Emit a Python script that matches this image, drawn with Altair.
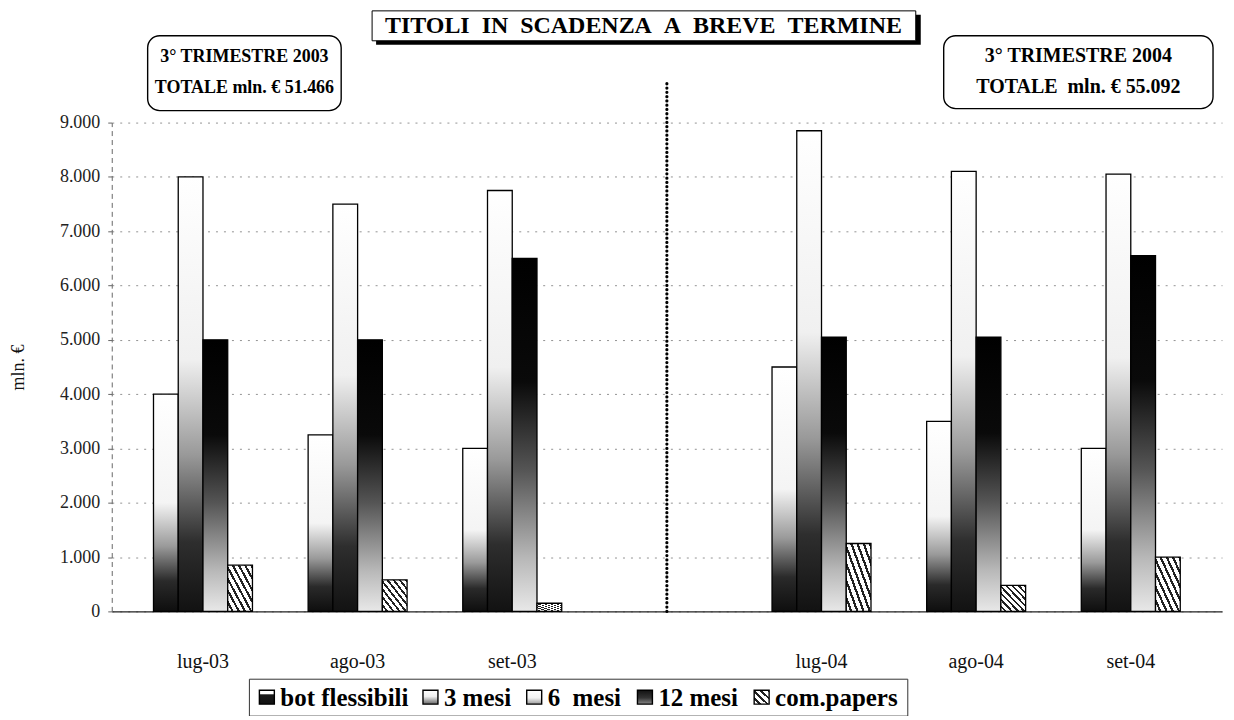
import altair as alt
import pandas as pd

# ---------------- data ----------------
MESI = ["lug-03", "ago-03", "set-03", "lug-04", "ago-04", "set-04"]
ASSE_X = ["lug-03", "ago-03", "set-03", " ", "lug-04", "ago-04", "set-04"]
SERIE = ["bot flessibili", "3 mesi", "6 mesi", "12 mesi", "com.papers"]
SERIE_BARRE = ["3 mesi", "6 mesi", "12 mesi", "com.papers"]
LEGENDA_TESTI = ["bot flessibili", "3 mesi", "6\u00a0\u00a0mesi", "12 mesi", "com.papers"]

BOT_FLESSIBILI = [0, 0, 0, 0, 0, 0]
MESI_3 = [4000, 3250, 3000, 4500, 3500, 3000]
MESI_6 = [8000, 7500, 7750, 8850, 8100, 8050]
MESI_12 = [5000, 5000, 6500, 5050, 5050, 6550]
COM_PAPERS = [850, 580, 150, 1250, 480, 1000]

TITOLO = "TITOLI\u00a0\u00a0IN\u00a0\u00a0SCADENZA\u00a0\u00a0A\u00a0\u00a0BREVE\u00a0\u00a0TERMINE"
BOX_2003 = ["3° TRIMESTRE 2003", "TOTALE mln. € 51.466"]
BOX_2004 = ["3° TRIMESTRE 2004", "TOTALE\u00a0\u00a0mln.\u00a0€\u00a055.092"]
Y_TITOLO = "mln. €"
Y_TICKS = [0, 1000, 2000, 3000, 4000, 5000, 6000, 7000, 8000, 9000]

valori = {
    "bot flessibili": BOT_FLESSIBILI,
    "3 mesi": MESI_3,
    "6 mesi": MESI_6,
    "12 mesi": MESI_12,
    "com.papers": COM_PAPERS,
}
rows = []
for s in SERIE:
    for m, v in zip(MESI, valori[s]):
        rows.append({"mese": m, "serie": s, "valore": v})
df = pd.DataFrame(rows)

# ---------------- styles ----------------
SERIF = "Liberation Serif"
W, H = 1113, 490


def grad(stops, x1=0, y1=0, x2=0, y2=1):
    return alt.Gradient(
        gradient="linear", x1=x1, y1=y1, x2=x2, y2=y2,
        stops=[alt.GradientStop(offset=o, color=c) for o, c in stops],
    )


def hatch(n):
    st = []
    for i in range(n):
        a, b, c = i / n, (i + 0.62) / n, (i + 1) / n
        st += [(a, "#ffffff"), (b, "#ffffff"), (b, "#222222"), (c, "#222222")]
    return grad(st, x1=0, y1=1, x2=1, y2=0)


FILLS = {
    "3 mesi": grad([(0, "#ffffff"), (0.5, "#f4f4f4"), (0.7, "#9a9a9a"), (0.86, "#2a2a2a"), (1, "#0e0e0e")]),
    "6 mesi": grad([(0, "#ffffff"), (0.42, "#f0f0f0"), (0.64, "#999999"), (0.84, "#2e2e2e"), (1, "#121212")]),
    "12 mesi": grad([(0, "#000000"), (0.35, "#0a0a0a"), (0.6, "#555555"), (0.85, "#b8b8b8"), (1, "#e8e8e8")]),
    "com.papers": hatch(8),
}
ICON_FILLS = [
    grad([(0, "#ffffff"), (0.28, "#ffffff"), (0.32, "#1a1a1a"), (1, "#111111")]),
    grad([(0, "#ffffff"), (0.45, "#eeeeee"), (1, "#666666")]),
    grad([(0, "#ffffff"), (0.55, "#f2f2f2"), (1, "#9a9a9a")]),
    grad([(0, "#111111"), (0.55, "#333333"), (1, "#8a8a8a")]),
    hatch(4),
]
ICON_X = [148, 312, 416, 527, 644]   # legend icon positions (px in plot area)
LEG_Y = 576

x_enc = alt.X(
    "mese:N",
    scale=alt.Scale(domain=ASSE_X, paddingInner=0.36, paddingOuter=0.27),
    axis=alt.Axis(
        title=None, labelExpr="datum.value == ' ' ? '' : datum.value",
        labelFont=SERIF, labelFontSize=20, labelColor="#111", labelPadding=40,
        labelAngle=0, ticks=False, domainColor="#222", domainWidth=1.3, grid=False,
    ),
)
y_enc = alt.Y(
    "valore:Q",
    scale=alt.Scale(domain=[0, 9000], nice=False),
    axis=alt.Axis(
        title=Y_TITOLO, values=Y_TICKS,
        labelExpr="replace(format(datum.value, ','), ',', '.')",
        labelFont=SERIF, labelFontSize=18, labelColor="#222", labelPadding=8,
        tickSize=4, tickColor="#666",
        titleFont=SERIF, titleFontSize=18, titleFontWeight="normal", titleColor="#111",
        titlePadding=32,
        domainDash=[5, 4], domainColor="#666",
        grid=True, gridColor="#777", gridDash=[2, 6], gridOpacity=0.8,
    ),
)

layers = []
for s in SERIE_BARRE:
    layers.append(
        alt.Chart(df)
        .transform_filter(alt.datum.serie == s)
        .mark_bar(fill=FILLS[s], stroke="#000", strokeWidth=1.3)
        .encode(
            x=x_enc,
            xOffset=alt.XOffset("serie:N", scale=alt.Scale(domain=SERIE_BARRE)),
            y=y_enc,
        )
    )

one = pd.DataFrame({"k": [0]})

# dotted separator between the two years
layers.append(
    alt.Chart(one).mark_rule(
        color="#000", strokeWidth=3.2, strokeDash=[0.1, 4.2], strokeCap="round"
    ).encode(
        x=alt.X(datum=" ", type="nominal", bandPosition=0.5),
        y=alt.value(-39), y2=alt.value(H),
    )
)

# title box with shadow
layers.append(alt.Chart(one).mark_rect(color="#000").encode(
    x=alt.value(265), x2=alt.value(811), y=alt.value(-108), y2=alt.value(-78)))
layers.append(alt.Chart(one).mark_rect(fill="white", stroke="#000", strokeWidth=1).encode(
    x=alt.value(261), x2=alt.value(806), y=alt.value(-112), y2=alt.value(-82)))
layers.append(alt.Chart(one).mark_text(
    text=TITOLO, font=SERIF, fontSize=24, fontWeight="bold", color="#000",
    align="center", baseline="middle").encode(x=alt.value(533), y=alt.value(-97)))

# rounded info boxes
layers.append(alt.Chart(one).mark_rect(
    fill="white", stroke="#000", strokeWidth=1.4, cornerRadius=12).encode(
    x=alt.value(36), x2=alt.value(230), y=alt.value(-87), y2=alt.value(-12)))
layers.append(alt.Chart(one).mark_rect(
    fill="white", stroke="#000", strokeWidth=1.4, cornerRadius=12).encode(
    x=alt.value(834), x2=alt.value(1104), y=alt.value(-87), y2=alt.value(-14)))
for i, t in enumerate(BOX_2003):
    layers.append(alt.Chart(one).mark_text(
        text=t, font=SERIF, fontSize=18, fontWeight="bold", color="#000",
        align="center", baseline="middle").encode(
        x=alt.value(133), y=alt.value(-66 + 31 * i)))
for i, t in enumerate(BOX_2004):
    layers.append(alt.Chart(one).mark_text(
        text=t, font=SERIF, fontSize=20, fontWeight="bold", color="#000",
        align="center", baseline="middle").encode(
        x=alt.value(969), y=alt.value(-67 + 31 * i)))

# legend box
layers.append(alt.Chart(one).mark_rect(fill="white", stroke="#333", strokeWidth=1).encode(
    x=alt.value(138), x2=alt.value(798), y=alt.value(558), y2=alt.value(595)))
for ix, fill, t in zip(ICON_X, ICON_FILLS, LEGENDA_TESTI):
    layers.append(alt.Chart(one).mark_rect(fill=fill, stroke="#000", strokeWidth=1.4).encode(
        x=alt.value(ix), x2=alt.value(ix + 15), y=alt.value(LEG_Y - 7), y2=alt.value(LEG_Y + 7)))
    layers.append(alt.Chart(one).mark_text(
        text=t, font=SERIF, fontSize=25, fontWeight="bold", color="#000",
        align="left", baseline="middle").encode(
        x=alt.value(ix + 21), y=alt.value(LEG_Y + 1)))

chart = (
    alt.layer(*layers)
    .properties(
        width=W, height=H,
        padding={"left": 104, "top": 114, "right": 4, "bottom": 104},
        autosize=alt.AutoSizeParams(type="none"),
        background="white",
    )
    .configure_view(stroke=None)
)

chart.save("out.html", embed_options={"renderer": "svg", "actions": False})
